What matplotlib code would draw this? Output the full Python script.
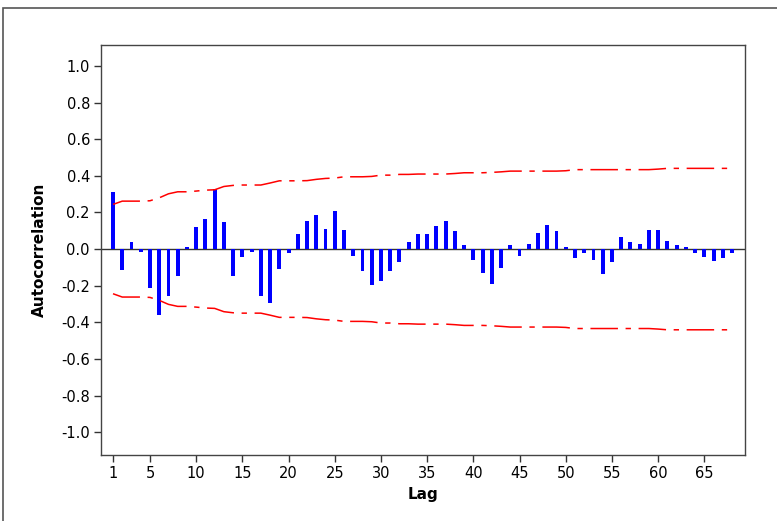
import matplotlib
matplotlib.use("Agg")
import matplotlib.pyplot as plt
from matplotlib.patches import Rectangle

# Sample autocorrelation function, lags 1..68
lags = list(range(1, 69))
acf = [
    0.310, -0.115, 0.036, -0.015, -0.210, -0.360, -0.257, -0.146, 0.010, 0.118,
    0.162, 0.330, 0.149, -0.146, -0.044, -0.015, -0.257, -0.293, -0.107, -0.020,
    0.080, 0.155, 0.184, 0.111, 0.206, 0.102, -0.036, -0.117, -0.197, -0.177,
    -0.117, -0.071, 0.036, 0.080, 0.080, 0.124, 0.155, 0.097, 0.022, -0.058,
    -0.131, -0.190, -0.102, 0.022, -0.036, 0.029, 0.089, 0.133, 0.097, 0.010,
    -0.051, -0.022, -0.058, -0.138, -0.073, 0.066, 0.036, 0.029, 0.102, 0.102,
    0.044, 0.022, 0.010, -0.022, -0.044, -0.066, -0.051, -0.022,
]
# Upper significance limit at each lag (lower limit is its negative)
upper_limit = [
    0.244, 0.262, 0.262, 0.262, 0.264, 0.280, 0.302, 0.313, 0.313, 0.317,
    0.322, 0.324, 0.342, 0.348, 0.350, 0.350, 0.350, 0.361, 0.373, 0.373,
    0.373, 0.374, 0.381, 0.386, 0.388, 0.395, 0.395, 0.395, 0.397, 0.404,
    0.404, 0.408, 0.408, 0.410, 0.410, 0.410, 0.410, 0.413, 0.417, 0.417,
    0.417, 0.419, 0.422, 0.426, 0.426, 0.426, 0.426, 0.426, 0.426, 0.428,
    0.434, 0.434, 0.434, 0.434, 0.434, 0.434, 0.434, 0.434, 0.434, 0.437,
    0.441, 0.441, 0.441, 0.441, 0.441, 0.441, 0.441, 0.441,
]
lower_limit = [-u for u in upper_limit]

xticks = [1, 5, 10, 15, 20, 25, 30, 35, 40, 45, 50, 55, 60, 65]
yticks = [-1.0, -0.8, -0.6, -0.4, -0.2, 0.0, 0.2, 0.4, 0.6, 0.8, 1.0]

plt.rcParams["font.family"] = ["DejaVu Sans"]

fig = plt.figure(figsize=(7.77, 5.21), dpi=100)
ax = fig.add_axes([101 / 777, 1 - 455 / 521, 644 / 777, 410 / 521])

# Outer graph frame
fig.patches.append(Rectangle((3 / 777, -0.05), 1.2, 1 - 8 / 521 + 0.05,
                             transform=fig.transFigure, fill=False,
                             edgecolor="#555555", linewidth=1.2))

ax.bar(lags, acf, width=0.42, color="#0000ff", edgecolor="none", zorder=3)
ax.axhline(0, color="#333333", linewidth=1.0, zorder=2)

dash = (18, 5, 3.5, 5)
ax.plot(lags, upper_limit, color="#ff0000", linewidth=1.1, dashes=dash, zorder=4)
ax.plot(lags, lower_limit, color="#ff0000", linewidth=1.1, dashes=dash, zorder=4)

ax.set_xlim(-0.3, 69.4)
ax.set_ylim(-1.125, 1.115)
ax.set_xticks(xticks)
ax.set_yticks(yticks)
ax.set_yticklabels([f"{v:.1f}" for v in yticks])
ax.tick_params(axis="both", direction="out", length=5, width=1, colors="#333333",
               labelcolor="black", labelsize=10.5, pad=3)
ax.tick_params(top=False, right=False)
for s in ax.spines.values():
    s.set_color("#444444")
    s.set_linewidth(1.0)

ax.set_xlabel("Lag", fontsize=11, fontweight="bold", labelpad=4)
ax.set_ylabel("Autocorrelation", fontsize=11, fontweight="bold", labelpad=10)

fig.savefig("out.png", dpi=100)
